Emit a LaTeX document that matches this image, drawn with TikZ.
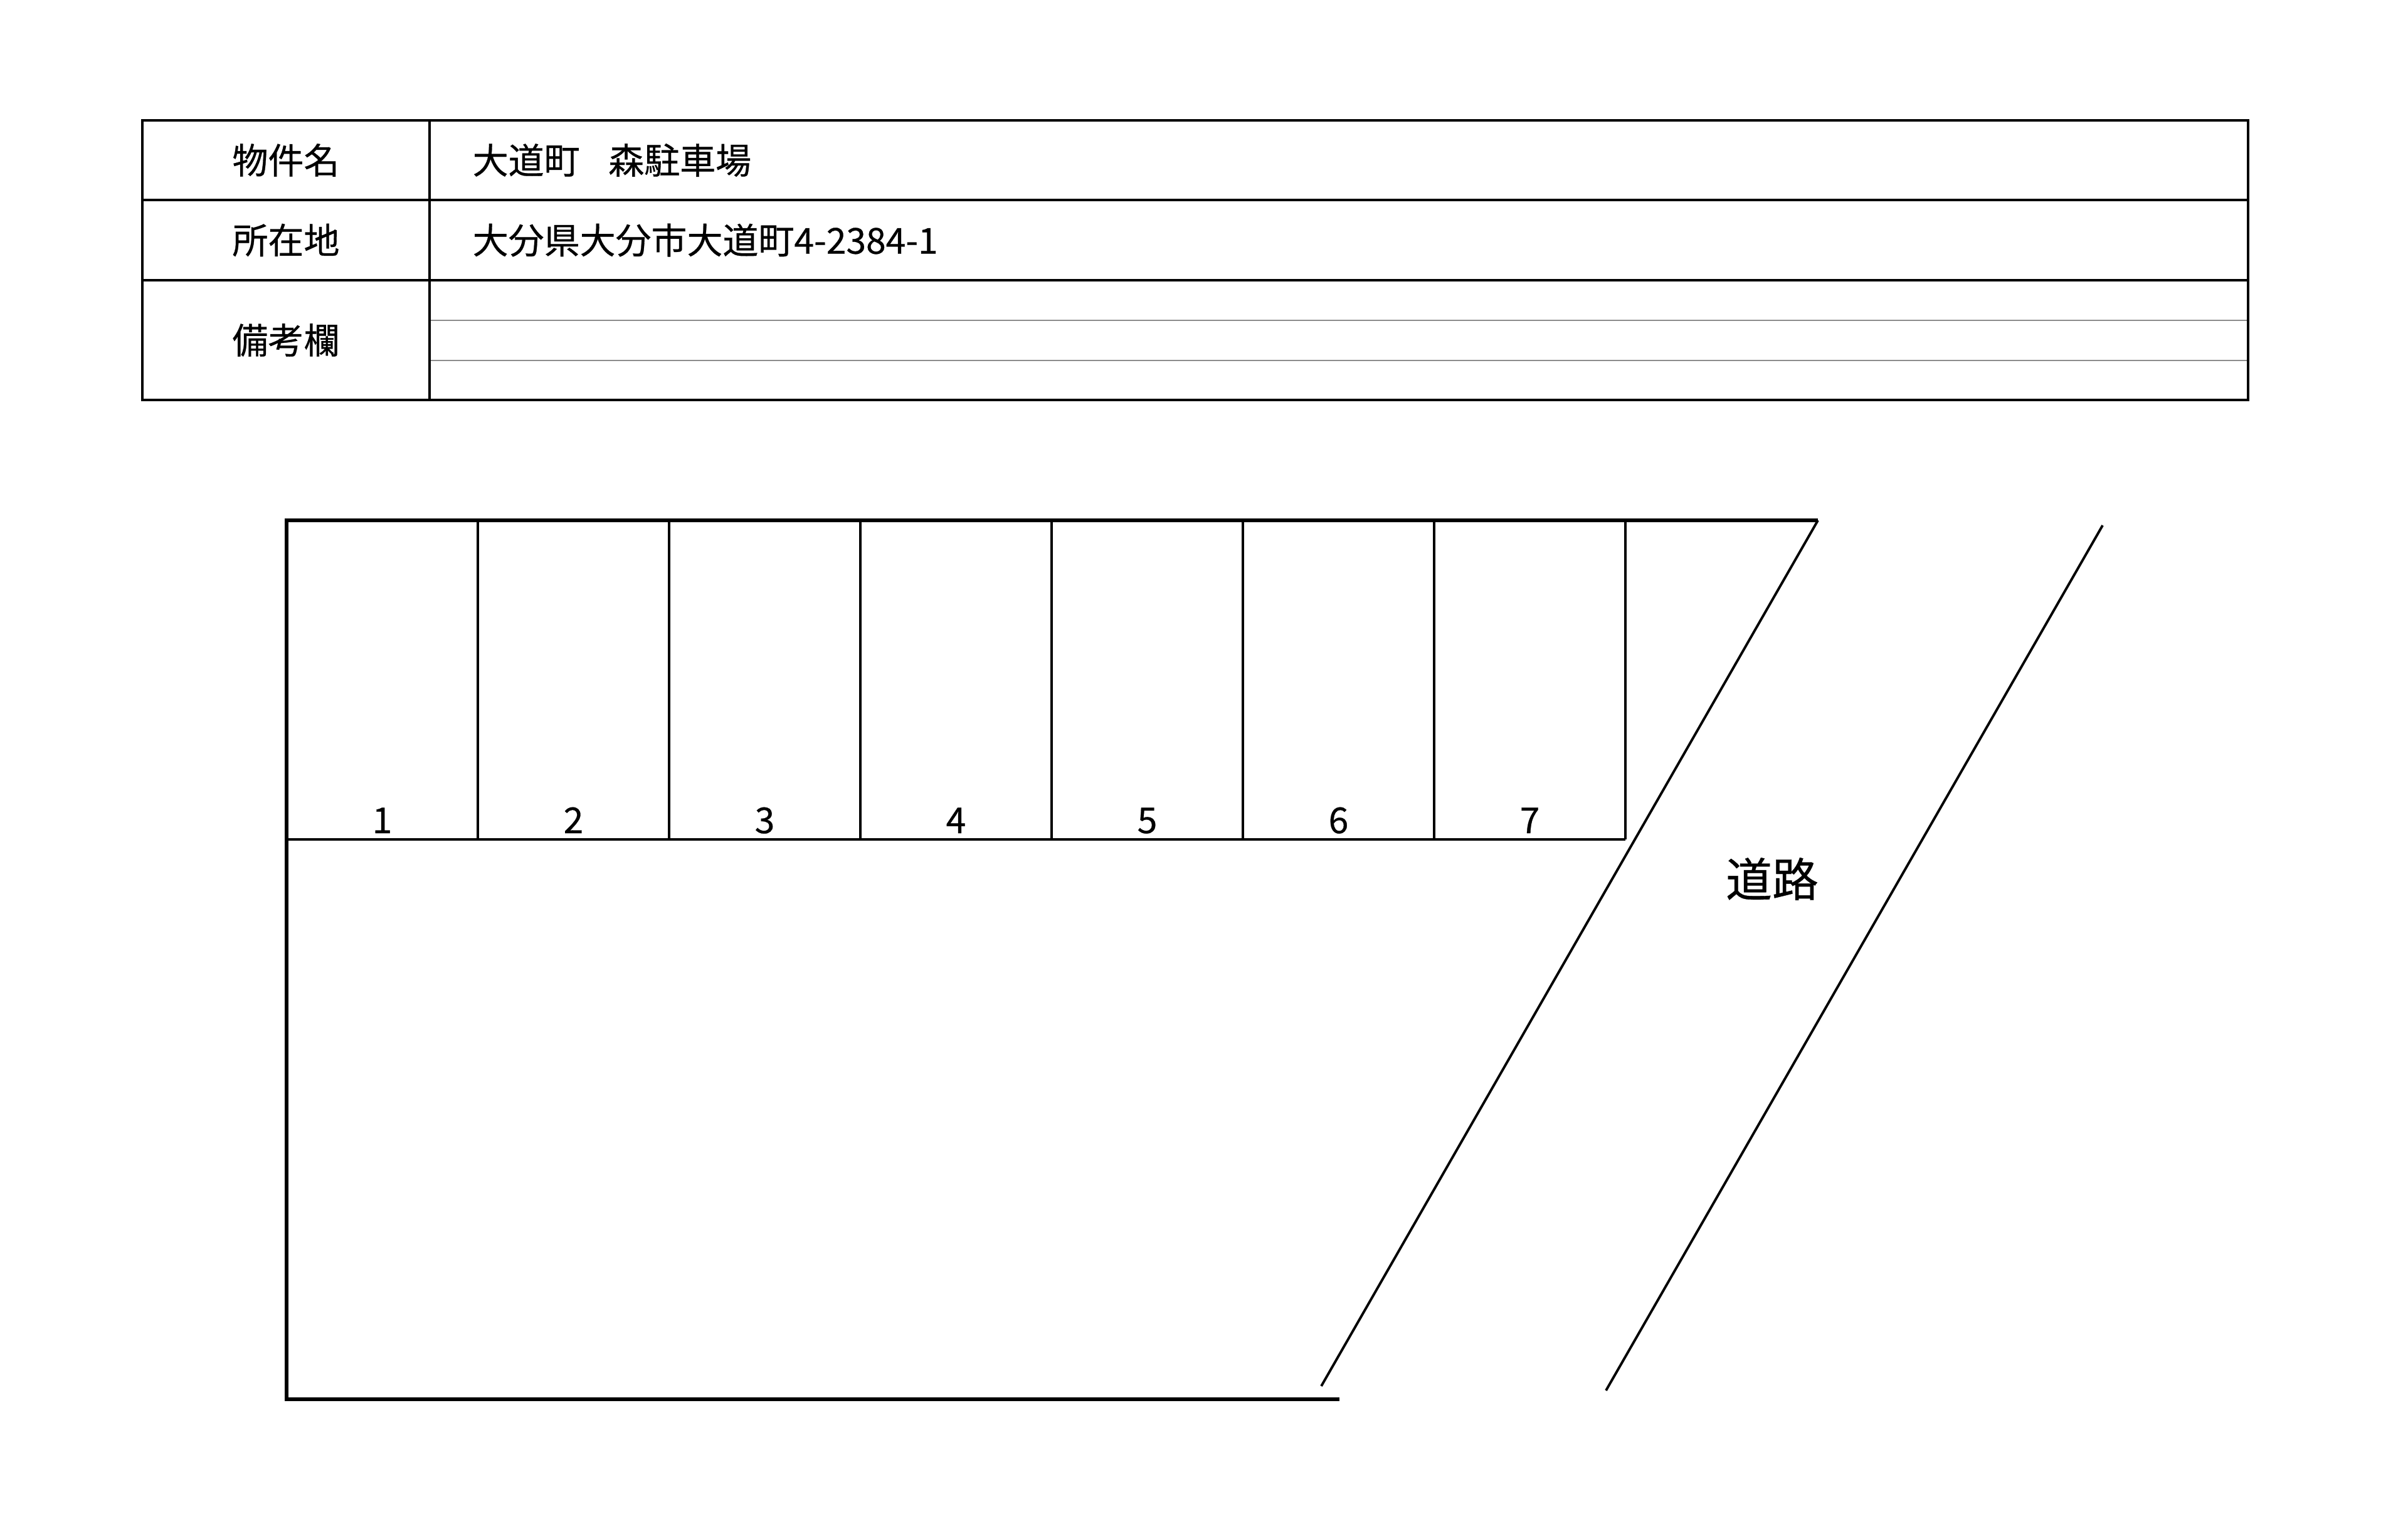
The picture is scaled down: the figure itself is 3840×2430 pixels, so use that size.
\documentclass[tikz,border=0pt]{standalone}
\usepackage{fontspec}
\setmainfont{Noto Sans CJK JP}[FakeBold=0.5]
\begin{document}
\begin{tikzpicture}[x=0.01cm,y=-0.01cm,
  frame/.style={line width=1.35pt},
  thinrule/.style={line width=0.5pt,draw=black!45},
  lot/.style={line width=1.5pt},
  stall/.style={line width=1.3pt},
  road/.style={line width=1.1pt},
  lbl/.style={font=\fontsize{16.2pt}{19pt}\selectfont,inner sep=0pt},
  num/.style={lbl,anchor=base},
  roadlbl/.style={font=\fontsize{21pt}{25pt}\selectfont,inner sep=0pt}]
\useasboundingbox (0,0) rectangle (3840,2430);
% ---- table ----
\draw[thinrule] (685,511) -- (3585,511);
\draw[thinrule] (685,575) -- (3585,575);
\draw[frame] (227,192) rectangle (3585,638);
\draw[frame] (227,319) -- (3585,319);
\draw[frame] (227,447) -- (3585,447);
\draw[frame] (685,192) -- (685,638);
\node[lbl] (n1) at (456,255.5) {物件名};
\node[lbl] (n2) at (456,383) {所在地};
\node[lbl] (n3) at (456,542.5) {備考欄};
\node[lbl,anchor=west] (v1) at (753,255.5) {大道町　\kern-0.2em森駐車場};
\node[lbl,anchor=west] (v2) at (753,383) {大分県大分市大道町4-2384-1};
% ---- lot ----
\coordinate (tl) at (457,830);
\coordinate (tr) at (2899,830);
\coordinate (bl) at (457,2232);
\coordinate (br) at (2136,2232);
\coordinate (d1a) at (2899,830);
\coordinate (d1b) at (2107,2211);
\coordinate (d2a) at (3353,838);
\coordinate (d2b) at (2561,2218);
\draw[lot] (tr) -- (tl) -- (bl) -- (br);
\draw[stall] (457,1339) -- (2592,1339);
\foreach \k in {1,...,7} {
  \draw[stall] ({457+305*\k},830) -- ({457+305*\k},1339);
}
\foreach \k in {1,...,7} {
  \node[num] (s\k) at ({457+305*\k-152.5},1329) {\k};
}
\draw[road] (d1a) -- (d1b);
\draw[road] (d2a) -- (d2b);
\node[roadlbl] (rd) at (2826,1402) {道路};
\end{tikzpicture}
\end{document}
